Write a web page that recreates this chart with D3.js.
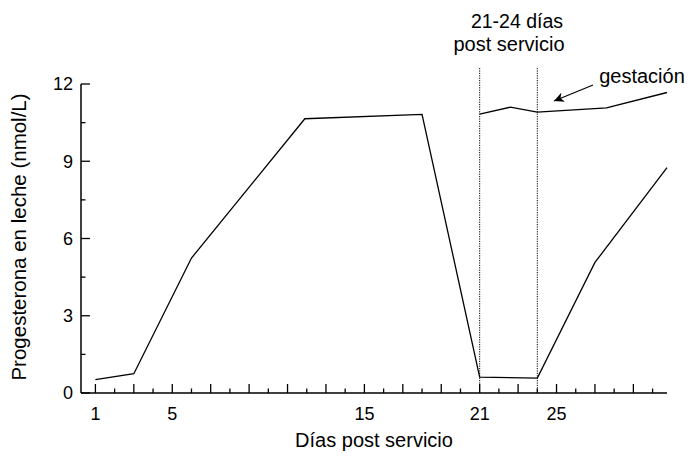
<!DOCTYPE html>
<html>
<head>
<meta charset="utf-8">
<script src="https://cdn.jsdelivr.net/npm/d3@7"></script>
<style>
  body { margin: 0; background: #fff; }
  svg text { font-family: "Liberation Sans", Arial, sans-serif; fill: #000; }
</style>
</head>
<body>
<div id="chart"></div>
<script>
// days and progesterone (nmol/L)
const cycleDays = [1, 3, 6, 11.9, 18, 21, 24, 27, 30.75];
const cycleValues = [0.52, 0.75, 5.24, 10.65, 10.82, 0.62, 0.58, 5.07, 8.75];
const gestDays = [21, 22.6, 24, 27.6, 30.75];
const gestValues = [10.83, 11.1, 10.91, 11.07, 11.67];
const markerDays = [21, 24];
const xTickLabels = [1, 5, 15, 21, 25];
const yTickLabels = [0, 3, 6, 9, 12];

const width = 688, height = 456;
let margin = {top: 84, right: 21, bottom: 63, left: 81};

const svg = d3.select("#chart").append("svg")
  .attr("width", width)
  .attr("height", height);

const x = d3.scaleLinear().domain([0.25, 30.75]).range([margin.left, width - margin.right]);
const y = d3.scaleLinear().domain([0, 12]).range([height - margin.bottom, margin.top]);

// x axis: ticks point up, long on odd days, short on even days
const xAxis = svg.append("g").attr("transform", `translate(0,${y(0)})`);
xAxis.append("line")
  .attr("x1", x.range()[0]).attr("x2", x.range()[1])
  .attr("stroke", "#000").attr("stroke-width", 1.5);
xAxis.selectAll(".xt").data(d3.range(1, 31)).join("line")
  .attr("x1", d => x(d)).attr("x2", d => x(d))
  .attr("y1", 0).attr("y2", d => d % 2 ? -9 : -4.5)
  .attr("stroke", "#000").attr("stroke-width", 1.3);
xAxis.selectAll(".xl").data(xTickLabels).join("text")
  .attr("x", d => x(d)).attr("y", 27)
  .attr("text-anchor", "middle")
  .style("font-size", "18px")
  .text(d => d);

// y axis: ticks point right
const yAxis = svg.append("g").attr("transform", `translate(${x.range()[0]},0)`);
yAxis.append("line")
  .attr("y1", y(0)).attr("y2", y(12))
  .attr("stroke", "#000").attr("stroke-width", 1.5);
yAxis.selectAll(".yt").data(d3.range(0, 12.1, 1.5)).join("line")
  .attr("y1", d => y(d)).attr("y2", d => y(d))
  .attr("x1", 0).attr("x2", d => d % 3 === 0 ? 9 : 4.5)
  .attr("stroke", "#000").attr("stroke-width", 1.3);
yAxis.selectAll(".yl").data(yTickLabels).join("text")
  .attr("x", -8).attr("y", d => y(d)).attr("dy", "0.36em")
  .attr("text-anchor", "end")
  .style("font-size", "18px")
  .text(d => d);

// axis titles
svg.append("text")
  .attr("x", 374).attr("y", 447)
  .attr("text-anchor", "middle")
  .style("font-size", "20px")
  .text("Días post servicio");
svg.append("text")
  .attr("transform", `translate(26,237) rotate(-90)`)
  .attr("text-anchor", "middle")
  .style("font-size", "20.5px")
  .text("Progesterona en leche (nmol/L)");

// dotted markers for days 21-24
svg.selectAll(".marker").data(markerDays).join("line")
  .attr("x1", d => x(d)).attr("x2", d => x(d))
  .attr("y1", 68).attr("y2", y(0))
  .attr("stroke", "#000").attr("stroke-width", 1)
  .attr("stroke-dasharray", "1.2,1.2");

const line = d3.line().x(d => x(d[0])).y(d => y(d[1]));

svg.append("path")
  .datum(d3.zip(cycleDays, cycleValues))
  .attr("d", line)
  .attr("fill", "none").attr("stroke", "#000").attr("stroke-width", 1.3);

svg.append("path")
  .datum(d3.zip(gestDays, gestValues))
  .attr("d", line)
  .attr("fill", "none").attr("stroke", "#000").attr("stroke-width", 1.3);

// annotations
svg.append("text")
  .attr("x", 517).attr("y", 28)
  .attr("text-anchor", "middle")
  .style("font-size", "19.5px")
  .text("21-24 días");
svg.append("text")
  .attr("x", 509).attr("y", 51)
  .attr("text-anchor", "middle")
  .style("font-size", "20px")
  .text("post servicio");
svg.append("text")
  .attr("x", 642).attr("y", 83)
  .attr("text-anchor", "middle")
  .style("font-size", "20px")
  .text("gestación");

// arrow pointing at the gestation line
svg.append("defs").append("marker")
  .attr("id", "head")
  .attr("viewBox", "0 0 10 10")
  .attr("refX", 10).attr("refY", 5)
  .attr("markerWidth", 10).attr("markerHeight", 10)
  .attr("markerUnits", "userSpaceOnUse")
  .attr("orient", "auto")
  .append("path")
  .attr("d", "M0,0 L10,5 L0,10 L3,5 Z")
  .attr("fill", "#000");
svg.append("line")
  .attr("x1", 593).attr("y1", 85)
  .attr("x2", 554).attr("y2", 101)
  .attr("stroke", "#000").attr("stroke-width", 1.3)
  .attr("marker-end", "url(#head)");
</script>
</body>
</html>
